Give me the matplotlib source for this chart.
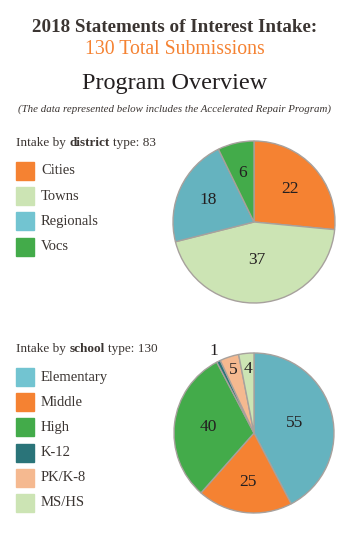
import matplotlib
matplotlib.use("Agg")
import matplotlib.pyplot as plt
from matplotlib.patches import Rectangle
import numpy as np

# ---------------------------------------- data ----------------------------------------
district_labels = ["Cities", "Towns", "Regionals", "Vocs"]
district_values = [22, 37, 18, 6]

school_labels = ["Elementary", "Middle", "High", "K-12", "PK/K-8", "MS/HS"]
school_values = [55, 25, 40, 1, 5, 4]

total_submissions = 130
district_total = 83
school_total = 130

# ---------------------------------------- style ----------------------------------------
plt.rcParams["font.family"] = ["Liberation Serif", "DejaVu Serif"]

W, H = 350, 540
txt_dark = "#3b3532"
num_col = "#231f20"
edge_col = "#a7a19d"

district_colors = ["#f58232", "#cce4b4", "#65b3bf", "#43ab4a"]
district_legend = ["#f58232", "#cce4b4", "#72c4d1", "#43ab4a"]
school_colors = ["#65b3bf", "#f58232", "#43ab4a", "#2a7479", "#f5b990", "#cce4b4"]
school_legend = ["#72c4d1", "#f58232", "#43ab4a", "#2a7479", "#f5b990", "#cce4b4"]

fig = plt.figure(figsize=(W / 100, H / 100), dpi=100)
fig.patch.set_facecolor("white")


def fx(px):
    return px / W


def fy(py):
    # py measured from top
    return 1 - py / H


# ---------------------------------------- titles ----------------------------------------
fig.text(0.5, fy(27), "2018 Statements of Interest Intake:", ha="center", va="center",
         fontsize=13.7, fontweight="bold", color=txt_dark)
fig.text(0.5, fy(49), "%d Total Submissions" % total_submissions, ha="center", va="center",
         fontsize=14.2, color="#f58232")
fig.text(0.5, fy(84), "Program Overview", ha="center", va="center",
         fontsize=17.5, color="#231f20")
fig.text(0.5, fy(109), "(The data represented below includes the Accelerated Repair Program)",
         ha="center", va="center", fontsize=7.8, style="italic", color=txt_dark)

fig.canvas.draw()
rend = fig.canvas.get_renderer()


def width(s, weight="normal", size=9.5):
    t = fig.text(0, 0, s, fontsize=size, fontweight=weight)
    w = t.get_window_extent(renderer=rend).width
    t.remove()
    return w


def header(y, word, total):
    space = width("a a") - width("aa")
    parts = [("Intake by", "normal"), (word, "bold"), ("type: %d" % total, "normal")]
    x = 16
    for s, w in parts:
        fig.text(fx(x), fy(y), s, ha="left", va="center", fontsize=9.5,
                 fontweight=w, color=txt_dark)
        x += width(s, w) + space


def legend(y0, labels, colors):
    for i, (lab, c) in enumerate(zip(labels, colors)):
        yc = y0 + i * 25.2
        fig.add_artist(Rectangle((fx(16), fy(yc + 9)), fx(18), 18 / H, color=c,
                                 transform=fig.transFigure))
        fig.text(fx(41), fy(yc), lab, ha="left", va="center", fontsize=10.5, color=txt_dark)


def pie(cx, cy, r, values, colors, dists):
    ax = fig.add_axes([fx(cx - r), fy(cy + r), 2 * r / W, 2 * r / H])
    wedges, _ = ax.pie(values, colors=colors, startangle=90, counterclock=False,
                       wedgeprops=dict(edgecolor=edge_col, linewidth=1.0))
    for w, v, d in zip(wedges, values, dists):
        w.set_clip_on(False)
        ang = np.deg2rad((w.theta1 + w.theta2) / 2)
        ax.text(d * np.cos(ang), d * np.sin(ang), str(v), ha="center", va="center",
                fontsize=12.5, color=num_col, clip_on=False)
    ax.set_xlim(-1, 1)
    ax.set_ylim(-1, 1)
    ax.set_aspect("equal")
    ax.axis("off")


# ---------------------------------------- district ----------------------------------------
header(143, "district", district_total)
legend(171, district_labels, district_legend)
pie(254, 222, 81, district_values, district_colors, [0.6, 0.47, 0.63, 0.62])

# ---------------------------------------- school ----------------------------------------
header(349, "school", school_total)
legend(377, school_labels, school_legend)
pie(254, 433, 80, school_values, school_colors, [0.52, 0.62, 0.58, 1.14, 0.83, 0.8])

fig.savefig("out.png", dpi=100)
